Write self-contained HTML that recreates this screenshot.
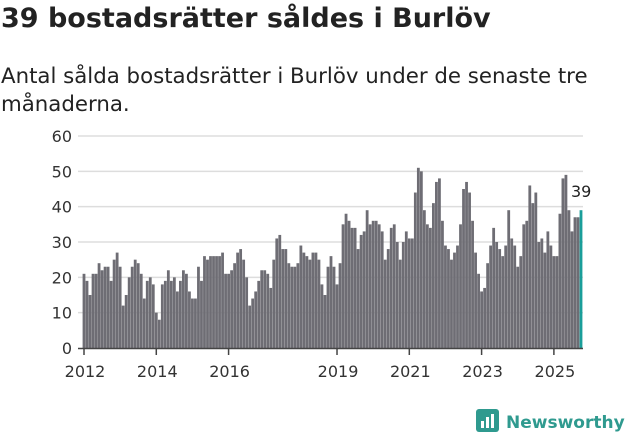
<!DOCTYPE html>
<html><head><meta charset="utf-8"><style>
body{margin:0;width:631px;height:439px;background:#fff;font-family:"DejaVu Sans",sans-serif;overflow:hidden;position:relative}
h1{position:absolute;left:1px;top:3px;margin:0;font-size:27px;font-weight:bold;color:#222;letter-spacing:0px}
p{position:absolute;left:1px;top:63px;margin:0;font-size:21.3px;line-height:28px;color:#222;width:620px}
svg{position:absolute;left:0;top:0}
</style></head><body>
<h1>39 bostadsrätter såldes i Burlöv</h1>
<p>Antal sålda bostadsrätter i Burlöv under de senaste tre månaderna.</p>
<svg id="c" width="631" height="439"></svg>
<script>
const values=[21,19,15,21,21,24,22,23,23,19,25,27,23,12,15,20,23,25,24,21,14,19,20,18,10,8,18,19,22,19,20,16,19,22,21,16,14,14,23,19,26,25,26,26,26,26,27,21,21,22,24,27,
28,25,20,12,14,16,19,22,22,21,17,25,31,32,28,28,24,23,23,24,29,27,26,25,27,27,25,18,15,23,26,23,18,24,35,38,36,34,34,28,32,33,39,35,36,36,35,33,25,28,34,35,30,25,30,33,31,
31,44,51,50,39,35,34,41,47,48,36,29,28,25,27,29,35,45,47,44,36,27,21,16,17,24,29,34,30,28,26,29,39,31,29,23,26,35,36,46,41,44,30,31,27,33,29,26,26,38,48,49,39,33,37,37,39];
const yTicks=[0,10,20,30,40,50,60];
const xYears=[2012,2014,2016,2019,2021,2023,2025];
const startYear=2012;
const NS='http://www.w3.org/2000/svg';
const svg=document.getElementById('c');
const y0=348,yTop=136,xL=78,xR=583,bx0=84,bx1=581;
const y=v=>y0-(v/60)*(y0-yTop);
const step=(bx1-bx0)/(values.length-1);
const x=i=>bx0+i*step;
function mk(t,a){const e=document.createElementNS(NS,t);for(const k in a)e.setAttribute(k,a[k]);svg.appendChild(e);return e;}
yTicks.forEach(v=>{
 if(v>0){const g=mk('line',{x1:xL,x2:xR,y1:y(v),y2:y(v),stroke:'#ddd','stroke-width':1.5});
 
 }
 const t=mk('text',{x:72,y:y(v)+6,'text-anchor':'end','font-size':16,fill:'#333','font-family':'DejaVu Sans, sans-serif'});
 t.textContent=v;
 
 
});
values.forEach((v,i)=>{
 const last=i===values.length-1;
 const r=mk('rect',{x:x(i)-1.4,y:y(v),width:2.8,height:y0-y(v),fill:last?'#1a9e9a':'#6e6d74'});
 
 
});
const ax=mk('line',{x1:xL,x2:xR,y1:y0+0.5,y2:y0+0.5,stroke:'#444','stroke-width':1.5});


xYears.forEach(yr=>{
 const xi=x((yr-startYear)*12);
 const tk=mk('line',{x1:xi,x2:xi,y1:y0,y2:y0+7,stroke:'#444','stroke-width':1.5});
 
 
 const t=mk('text',{x:xi+1,y:377,'text-anchor':'middle','font-size':16,fill:'#333','font-family':'DejaVu Sans, sans-serif'});
 t.textContent=yr;
 
 
});
const li=values.length-1;
const lab=mk('text',{x:x(li)-10,y:y(values[li])-13,'font-size':16,fill:'#222','font-family':'DejaVu Sans, sans-serif'});
lab.textContent=values[li];


</script>
<svg width="631" height="439">
 <rect x="476" y="409" width="23" height="23" rx="3" fill="#2f9a8f"/>
 <rect x="481" y="421" width="3" height="7" fill="#fff"/><rect x="486" y="417" width="3" height="11" fill="#fff"/><rect x="491" y="414" width="3" height="14" fill="#fff"/>
 <text x="506" y="428" font-size="17" font-weight="bold" fill="#2f9a8f" font-family="DejaVu Sans, sans-serif">Newsworthy</text>
</svg>
</body></html>
